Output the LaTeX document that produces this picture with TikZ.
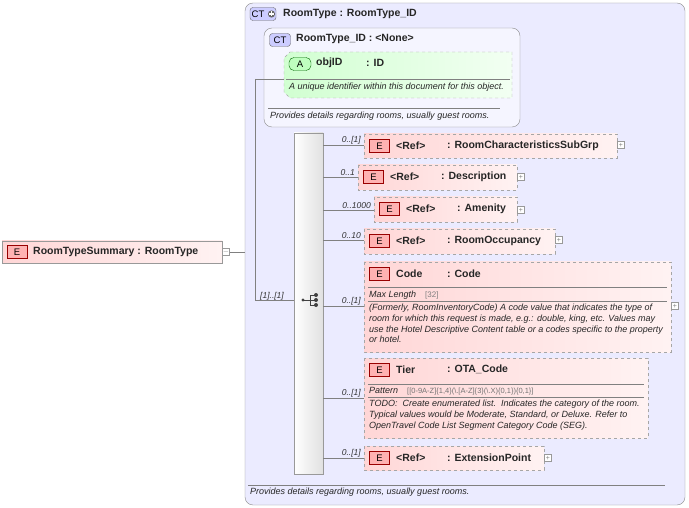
\documentclass[tikz,border=0pt]{standalone}
\usepackage{fontspec}
\setmainfont{Liberation Sans}
\begin{document}
\begin{tikzpicture}[x=1pt,y=-1pt,
  lbl/.style={font=\bfseries\fontsize{10.5}{12}\selectfont,anchor=west,inner sep=0,text=black!85},
  sm/.style={font=\itshape\fontsize{9}{10.7}\selectfont,anchor=west,inner sep=0,text=black!85},
  card/.style={font=\itshape\fontsize{8.5}{9}\selectfont,inner sep=0,text=black!80},
  ebox/.style={draw=black!35,dashed,left color=red!16,right color=red!5},
  ebadge/.style={draw=red!60!black,fill=red!30,font=\fontsize{9.5}{10}\selectfont,inner sep=0,minimum width=20pt,minimum height=13pt},
  plusbox/.style={draw=black!40,fill=white,minimum size=7pt,inner sep=0,font=\fontsize{7}{7}\selectfont,text=black!50},
  conn/.style={draw=black!50,line width=0.5pt}]
\useasboundingbox (0,0) rectangle (689,508);
% outer CT
\draw[black!45,fill=blue!8,rounded corners=8pt] (245,3) rectangle (685,505);
\node[draw=black!60,fill=blue!20,rounded corners=3pt,inner sep=0,minimum width=26pt,minimum height=13pt] (ctb) at (263,14) {};
\node[font=\fontsize{9.5}{10}\selectfont,inner sep=0] (ctbt) at (258,14) {CT};
\fill[black!60] (271.5,14) circle (3.6pt);
\draw[white,line width=1.1pt] (269,14) -- (274,14) (271.5,11.5) -- (271.5,16.5);
\node[lbl] (ctt) at (283,14) {RoomType : RoomType\_ID};
% inner CT
\draw[black!45,fill=white!50!blue!8,rounded corners=8pt] (264,28) rectangle (520,127);
\node[draw=black!60,fill=blue!20,rounded corners=3pt,font=\fontsize{9.5}{10}\selectfont,inner sep=1pt,minimum width=21pt,minimum height=13pt] (ct2) at (280,40) {CT};
\node[lbl] (ct2t) at (296,39) {RoomType\_ID : <None>};
% attribute
\draw[black!35,dashed,left color=green!18,right color=green!5] (290,52) -- (512,52) -- (512,98) -- (290,98) -- (284,92) -- (284,58) -- cycle;
\node[draw=green!40!black,fill=green!25,rounded corners=5pt,font=\fontsize{9.5}{10}\selectfont,inner sep=0,minimum width=22pt,minimum height=13pt] (ab) at (300,64) {A};
\node[lbl] (an) at (316,63) {objID};
\node[lbl] (at) at (366,63) {: ID};
\draw[black!50] (286,79) -- (510,79);
\node[sm] (ad) at (289,87) {A unique identifier within this document for this object.};
\draw[black!50] (268,108) -- (500,108);
\node[sm] (pd) at (270,116) {Provides details regarding rooms, usually guest rooms.};
% root
\draw[black!40,left color=red!16,right color=red!5] (2,241) rectangle (222,263);
\node[ebadge] (rb) at (17,252) {E};
\node[lbl] (rn) at (33,252) {RoomTypeSummary : RoomType};
\node[plusbox] (rp) at (226,252) {$-$};
% sequence bar
\draw[black!40,left color=white,right color=black!12] (294,133) rectangle (323,474);
\node (seq) at (309,300) {};
\fill[black!75] (303,300) circle (1.6pt);
\draw[black!75,line width=0.8pt] (303,300) -- (310,300) (310,295) -- (310,305);
\foreach \yy in {295,300,305}{\draw[black!75,line width=0.8pt] (310,\yy) -- (315,\yy); \fill[black!75] (316,\yy) circle (2pt);}
% connectors
\draw[conn] (rp.east) -- (245,252);
\draw[conn] (255,79) -- (284,79);
\draw[conn] (255,79) -- (255,300) -- (294,300);
\node[card] at (272,296) {[1]..[1]};
\newcommand\elem[8]{% left top right bottom conny card name type
  \draw[ebox] (#1,#2) rectangle (#3,#4);
  \draw[conn] (323,#5) -- (#1,#5);
  \node[card,anchor=south east] at (#1-3,#5-1) {#6};
  \node[ebadge] at (#1+15.5,#2+12) {E};
  \node[lbl] at (#1+32,#2+11.5) {#7};
  \node[lbl] at (#1+83,#2+11.5) {#8};}
\elem{364}{134}{617}{158}{145}{0..[1]}{<Ref>}{: RoomCharacteristicsSubGrp}
\node[plusbox] at (621,145) {+};
\elem{358}{165}{517}{190}{177}{0..1}{<Ref>}{: Description}
\node[plusbox] at (521,177) {+};
\elem{374}{197}{517}{222}{210}{0..1000}{<Ref>}{: Amenity}
\node[plusbox] at (521,210) {+};
\elem{364}{229}{555}{254}{240}{0..10}{<Ref>}{: RoomOccupancy}
\node[plusbox] at (559,240) {+};
\elem{364}{262}{671}{352}{306}{0..[1]}{Code}{: Code}
\node[plusbox] at (675,306) {+};
\draw[black!50] (368,287) -- (667,287);
\node[sm] at (369,295) {Max Length\quad {\upshape\fontsize{8}{9}\selectfont\color{black!50}[32]}};
\draw[black!50] (368,301) -- (667,301);
\node[sm,align=left,anchor=north west] at (369,304) {(Formerly, RoomInventoryCode) A code value that indicates the type of\\room for which this request is made, e.g.: double, king, etc. Values may\\use the Hotel Descriptive Content table or a codes specific to the property\\or hotel.};
\elem{364}{358}{648}{438}{398}{0..[1]}{Tier}{: OTA\_Code}
\draw[black!50] (368,384) -- (644,384);
\node[sm] at (369,391) {Pattern\quad {\upshape\fontsize{7.5}{8}\selectfont\color{black!55}[[0-9A-Z]\{1,4\}(\textbackslash.[A-Z]\{3\}(\textbackslash.X)\{0,1\})\{0,1\}]}};
\draw[black!50] (368,397) -- (644,397);
\node[sm,align=left,anchor=north west] at (369,400) {TODO:\ \ Create enumerated list.\ \ Indicates the category of the room.\\Typical values would be Moderate, Standard, or Deluxe. Refer to\\OpenTravel Code List Segment Category Code (SEG).};
\elem{364}{446}{544}{470}{458}{0..[1]}{<Ref>}{: ExtensionPoint}
\node[plusbox] at (548,458) {+};
% bottom
\draw[black!50] (248,485) -- (665,485);
\node[sm] (bd) at (250,492) {Provides details regarding rooms, usually guest rooms.};
\end{tikzpicture}
\end{document}
